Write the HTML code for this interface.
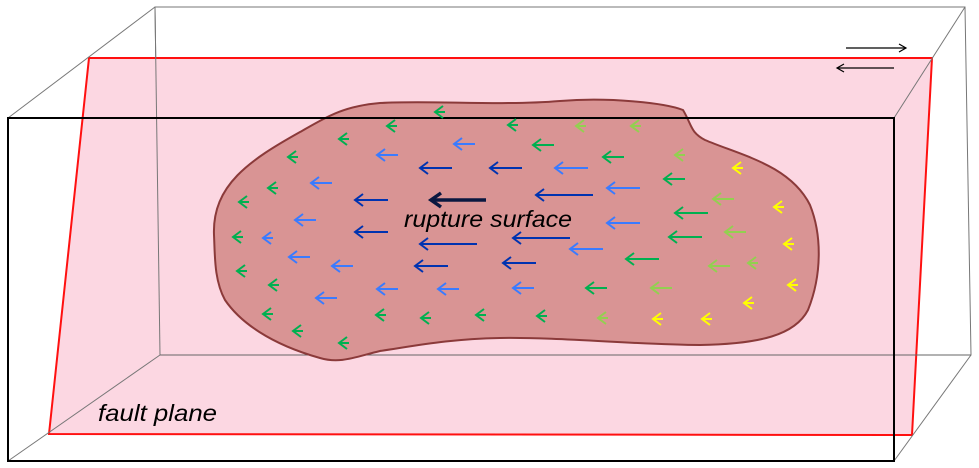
<!DOCTYPE html>
<html><head><meta charset="utf-8"><style>html,body{margin:0;padding:0;background:#fff}svg{display:block}</style></head>
<body>
<svg id="s" width="979" height="468" viewBox="0 0 979 468" xmlns="http://www.w3.org/2000/svg">
<polygon points="155,7 965,7 971,355 160,355" fill="none" stroke="#777" stroke-width="1"/>
<polygon points="89,58 932,58 912,435 49,434" fill="#fcd7e2" stroke="#ff1010" stroke-width="2"/>
<line x1="155" y1="7" x2="160" y2="355" stroke="#777" stroke-width="1"/>
<line x1="160" y1="355" x2="971" y2="355" stroke="#666" stroke-width="1"/>
<line x1="8" y1="118" x2="155" y2="7" stroke="#777" stroke-width="1"/>
<line x1="894" y1="118" x2="965" y2="7" stroke="#777" stroke-width="1"/>
<line x1="894" y1="461" x2="971" y2="355" stroke="#777" stroke-width="1"/>
<line x1="8" y1="461" x2="160" y2="355" stroke="#777" stroke-width="1"/>
<path d="M214,235 C212,185 250,160 300,132 C330,115 345,106 380,103 C430,100 500,106 560,101 C610,97 665,103 683,110 C692,125 690,132 705,140 C740,155 790,165 810,205 C822,235 822,275 808,310 C795,335 760,344 700,345 C640,345 560,337 500,338 C450,339 420,345 380,351 C355,357 340,364 320,358 C270,344 240,322 225,300 C214,280 215,255 214,235 Z" fill="#d99494" stroke="#8b3a3a" stroke-width="2"/>
<rect x="8" y="118" width="886" height="343" fill="none" stroke="#000" stroke-width="2"/>
<g stroke="#000" stroke-width="1.2" fill="none">
<line x1="846" y1="48" x2="906" y2="48"/><polyline points="899,44 906,48 899,52"/>
<line x1="837" y1="68" x2="894" y2="68"/><polyline points="844,64 837,68 844,72"/>
</g>
<g id="arr" fill="none" stroke-width="2"></g>
<text x="404" y="227" font-family="Liberation Sans, sans-serif" font-style="italic" font-size="23" textLength="168" lengthAdjust="spacingAndGlyphs" fill="#000">rupture surface</text>
<text x="98" y="421" font-family="Liberation Sans, sans-serif" font-style="italic" font-size="23" textLength="119" lengthAdjust="spacingAndGlyphs" fill="#000">fault plane</text>
</svg>
<script>
var G='#00b050',L='#92d050',Y='#ffff00',B='#3a7bff',D='#0033b0',K='#0a1840';
var a=[
[435,112,10,G],[387,126,10,G],[508,125,10,G],[339,139,10,G],[454,144,21,B],[288,157,10,G],[377,155,21,B],
[420,168,32,D],[490,168,32,D],[268,188,10,G],[311,183,21,B],[239,202,10,G],[355,200,33,D],[295,220,21,B],
[233,237,10,G],[263,238,10,B],[355,232,33,D],[420,244,57,D],[415,266,33,D],[503,263,33,D],[289,257,21,B],
[332,266,21,B],[237,271,10,G],[269,285,10,G],[377,289,21,B],[438,289,21,B],[316,298,21,B],[263,314,10,G],
[376,315,10,G],[421,318,10,G],[476,315,10,G],[293,331,10,G],[339,343,10,G],
[576,126,10,L],[631,126,10,L],[533,145,21,G],[603,157,21,G],[675,155,10,L],[555,168,33,B],[733,168,10,Y],
[664,179,21,G],[607,188,33,B],[536,195,57,D],[713,199,21,L],[774,207,10,Y],[675,213,33,G],[607,223,33,B],
[725,232,21,L],[669,237,33,G],[513,238,57,D],[784,244,10,Y],[570,249,33,B],[626,259,33,G],[709,266,21,L],
[748,263,10,L],[788,285,10,Y],[513,288,21,B],[586,288,21,G],[651,288,21,L],[744,303,10,Y],[537,316,10,G],
[598,318,10,L],[653,319,10,Y],[702,319,10,Y]];
var g=document.getElementById('arr'),h='';
a.forEach(function(r){var x=r[0],y=r[1],l=r[2],c=r[3];
h+='<g stroke="'+c+'"><line x1="'+x+'" y1="'+y+'" x2="'+(x+l)+'" y2="'+y+'"/><polyline points="'+(x+8)+','+(y-6)+' '+x+','+y+' '+(x+8)+','+(y+6)+'"/></g>';});
h+='<g stroke="'+K+'" stroke-width="3.5"><line x1="431" y1="200" x2="486" y2="200"/><polyline points="441,193 431,200 441,207"/></g>';
g.innerHTML=h;
</script>
</body></html>
